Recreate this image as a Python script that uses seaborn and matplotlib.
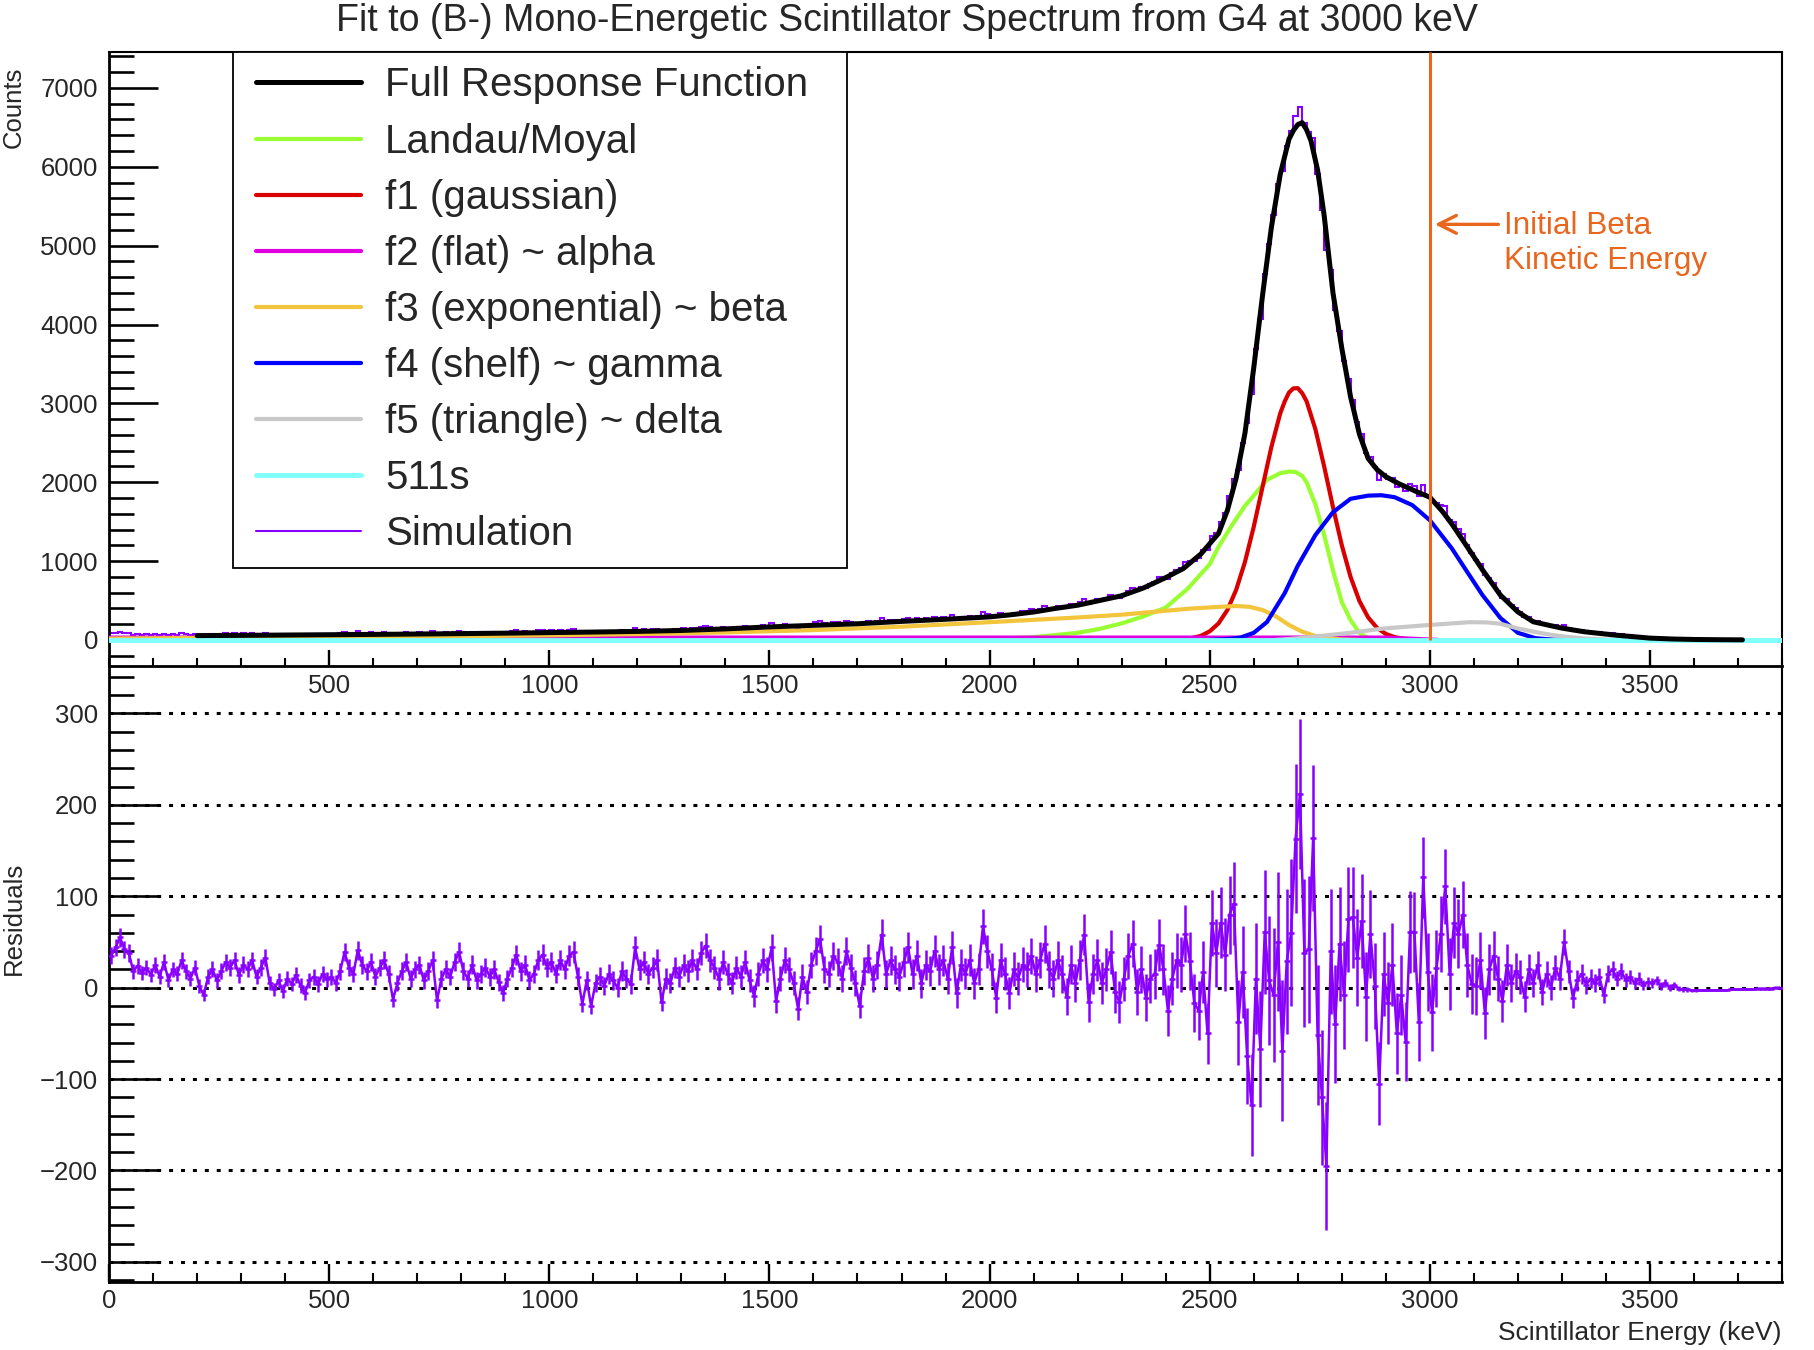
import numpy as np
import matplotlib
matplotlib.use("Agg")
import matplotlib.pyplot as plt
from matplotlib.ticker import MultipleLocator, FixedLocator
from matplotlib.lines import Line2D
from matplotlib.legend_handler import HandlerLine2D
import seaborn as sns

# simulated spectrum, 10 keV bins from 0 to 3800 keV
bin_edges = np.arange(0, 3810, 10)
bin_centers = bin_edges[:-1] + 5

sim_counts = [
    85, 94, 105, 92, 88, 68, 74, 66, 72, 64,
    77, 64, 80, 60, 72, 67, 82, 70, 62, 74,
    57, 47, 67, 76, 64, 74, 85, 79, 87, 71,
    83, 78, 89, 71, 81, 93, 65, 58, 69, 57,
    72, 66, 76, 65, 57, 72, 76, 69, 80, 74,
    78, 71, 84, 106, 89, 82, 109, 93, 86, 97,
    82, 92, 101, 86, 58, 78, 91, 101, 83, 94,
    100, 83, 94, 107, 63, 88, 98, 90, 106, 118,
    98, 90, 106, 89, 97, 105, 95, 104, 90, 79,
    96, 109, 123, 106, 114, 97, 105, 121, 127, 114,
    121, 109, 125, 116, 131, 135, 109, 80, 106, 79,
    105, 113, 104, 118, 111, 104, 123, 115, 110, 151,
    129, 138, 126, 134, 143, 98, 125, 121, 139, 131,
    146, 141, 155, 147, 167, 177, 163, 157, 147, 167,
    156, 148, 167, 159, 178, 160, 145, 171, 188, 180,
    210, 152, 179, 201, 193, 180, 154, 191, 176, 208,
    226, 241, 210, 207, 229, 224, 208, 240, 224, 209,
    186, 227, 244, 225, 243, 279, 239, 257, 250, 245,
    264, 282, 256, 278, 251, 274, 269, 294, 277, 290,
    273, 310, 262, 296, 289, 307, 285, 303, 353, 330,
    315, 289, 336, 327, 311, 343, 340, 362, 364, 386,
    374, 398, 425, 406, 405, 434, 427, 410, 453, 441,
    476, 516, 454, 497, 524, 511, 538, 569, 537, 538,
    580, 625, 658, 625, 670, 662, 709, 740, 798, 797,
    779, 843, 892, 916, 987, 1003, 1004, 1042, 1140, 1138,
    1324, 1356, 1494, 1604, 1823, 2040, 2155, 2495, 2753, 3115,
    3690, 4073, 4646, 5023, 5390, 5783, 5944, 6267, 6455, 6648,
    6757, 6553, 6442, 6371, 5908, 5453, 4940, 4685, 4185, 3923,
    3537, 3310, 3040, 2761, 2606, 2368, 2324, 2197, 2033, 2108,
    2038, 2050, 1945, 1960, 1884, 1979, 1954, 1830, 1966, 1839,
    1751, 1736, 1711, 1694, 1523, 1500, 1405, 1343, 1205, 1100,
    1013, 957, 818, 787, 723, 619, 528, 514, 441, 400,
    349, 291, 286, 235, 243, 200, 208, 180, 190, 166,
    195, 154, 116, 126, 124, 104, 105, 94, 95, 69,
    86, 85, 69, 72, 57, 57, 45, 45, 33, 31,
    27, 28, 20, 20, 13, 14, 9, 6, 5, 3,
    2, 1, 1, 0, 0, 0, 0, 0, 0, 0,
    0, 0, 0, 0, 0, 0, 0, 0, 0, 0,
]

residuals = [
    35, 44, 55, 42, 38, 18, 24, 16, 22, 14,
    25, 12, 28, 8, 20, 15, 30, 18, 10, 22,
    2, -8, 12, 20, 8, 18, 28, 22, 30, 14,
    25, 20, 30, 12, 22, 33, 5, -2, 8, -4,
    10, 4, 14, 2, -6, 8, 12, 4, 15, 9,
    12, 5, 18, 39, 22, 15, 41, 25, 18, 28,
    12, 22, 30, 15, -13, 5, 18, 28, 10, 20,
    25, 8, 18, 30, -14, 10, 20, 12, 28, 39,
    18, 10, 25, 8, 15, 22, 12, 20, 6, -6,
    10, 22, 36, 18, 25, 8, 15, 30, 36, 22,
    28, 15, 30, 20, 35, 39, 12, -18, 8, -20,
    5, 12, 2, 15, 8, 0, 18, 10, 4, 44,
    20, 28, 15, 22, 30, -16, 10, 5, 22, 12,
    25, 18, 30, 20, 38, 46, 30, 22, 10, 28,
    15, 5, 22, 12, 28, 8, -9, 15, 30, 20,
    44, -15, 10, 30, 20, 5, -23, 12, -5, 25,
    40, 53, 20, 15, 35, 28, 10, 40, 22, 5,
    -20, 18, 32, 10, 25, 58, 15, 30, 20, 12,
    28, 44, 15, 35, 5, 25, 18, 40, 20, 30,
    10, 44, -6, 25, 15, 30, 5, 20, 67, 40,
    20, -11, 30, 15, -6, 20, 10, 25, 20, 35,
    15, 30, 48, 20, 10, 30, 15, -10, 25, 5,
    30, 58, -16, 15, 30, 5, 20, 39, -5, -16,
    10, 35, 48, -5, 20, -11, 10, 15, 47, 20,
    -25, 10, 30, 25, 59, 29, -17, -25, 17, -50,
    71, 38, 71, 36, 80, 92, -38, 17, -75, -128,
    10, -67, 61, 8, -8, 50, -69, 29, 60, 163,
    212, 38, 42, 164, -52, -120, -195, 40, -40, 48,
    -8, 75, 77, 33, 73, -10, 59, 2, -105, 15,
    -17, 25, -50, -8, -59, 61, 61, -38, 121, 17,
    -27, 21, 59, 111, 15, 71, 59, 80, 25, 4,
    2, 30, -28, 20, 35, 10, -15, 25, 5, 18,
    12, -10, 20, 5, 25, -5, 15, 0, 22, 10,
    50, 18, -11, 8, 15, 3, 10, 5, 12, -8,
    15, 20, 10, 18, 8, 12, 5, 10, 3, 6,
    5, 8, 2, 5, 0, 3, -1, -2, -2, -3,
    -3, -3, -3, -3, -3, -3, -3, -3, -2, -2,
    -2, -2, -2, -2, -1, -1, -1, -1, 0, 0,
]

# fitted curves (keV, counts)
full_e = [200, 300, 400, 500, 600, 700, 800, 900, 1000, 1100, 1200, 1300, 1400, 1500,
          1600, 1700, 1800, 1900, 2000, 2050, 2100, 2150, 2200, 2250, 2300, 2350, 2400,
          2440, 2480, 2500, 2520, 2540, 2560, 2580, 2600, 2620, 2640, 2660, 2680, 2690,
          2700, 2710, 2720, 2730, 2745, 2760, 2780, 2800, 2820, 2840, 2860, 2880, 2900,
          2930, 2970, 3000, 3030, 3050, 3085, 3120, 3160, 3200, 3235, 3275, 3300, 3350,
          3425, 3500, 3550, 3600, 3650, 3710]
full_c = [55, 58, 62, 66, 70, 75, 80, 86, 93, 100, 108, 120, 140, 165,
          185, 205, 235, 262, 292, 320, 354, 400, 440, 500, 560, 660, 790,
          905, 1090, 1220, 1350, 1640, 2050, 2620, 3450, 4370, 5230, 5900, 6350, 6460,
          6535, 6560, 6470, 6330, 5960, 5380, 4400, 3700, 3080, 2610, 2300, 2160, 2070,
          1980, 1880, 1810, 1620, 1470, 1180, 885, 570, 355, 230, 180, 150, 104,
          59, 23, 12, 6, 3, 1]

moyal_e = [1900, 2000, 2100, 2200, 2250, 2300, 2350, 2400, 2450, 2500, 2520, 2550, 2580,
           2600, 2630, 2660, 2680, 2695, 2710, 2720, 2740, 2760, 2780, 2800, 2820, 2840,
           2860, 2880]
moyal_c = [0, 10, 35, 90, 140, 210, 300, 410, 650, 960, 1180, 1450, 1700,
           1830, 2030, 2115, 2135, 2130, 2080, 2000, 1720, 1330, 880, 480, 250, 90,
           20, 0]

gauss_e = [2400, 2420, 2440, 2460, 2480, 2500, 2520, 2540, 2560, 2580, 2600, 2620, 2640,
           2660, 2670, 2680, 2690, 2700, 2710, 2720, 2740, 2760, 2780, 2800, 2820, 2840,
           2860, 2880, 2900, 2920, 2940, 2960, 2980]
gauss_c = [1, 4, 10, 24, 52, 109, 210, 378, 634, 988, 1435, 1941, 2445,
           2870, 3020, 3137, 3190, 3193, 3130, 3027, 2673, 2199, 1684, 1201, 798, 494,
           284, 153, 76, 36, 15, 6, 2]

flat_e = [0, 2900, 2960, 3020]
flat_c = [30, 30, 15, 0]

expo_e = [0, 200, 400, 600, 800, 1000, 1200, 1400, 1600, 1800, 2000, 2200, 2300, 2400,
          2450, 2500, 2530, 2560, 2590, 2620, 2650, 2680, 2710, 2740, 2770, 2800, 2840]
expo_c = [18, 24, 30, 38, 47, 58, 74, 95, 125, 168, 225, 285, 320, 370,
          395, 412, 422, 430, 420, 380, 300, 190, 105, 50, 20, 6, 0]

shelf_e = [2500, 2540, 2570, 2600, 2630, 2670, 2700, 2740, 2780, 2820, 2860, 2890, 2920,
           2960, 3000, 3050, 3085, 3120, 3160, 3200, 3240, 3280, 3320]
shelf_c = [0, 10, 30, 90, 227, 590, 940, 1330, 1620, 1790, 1830, 1835, 1810,
           1710, 1518, 1160, 861, 565, 280, 90, 22, 3, 0]

tri_e = [2650, 2706, 2760, 2820, 2895, 3000, 3090, 3130, 3160, 3200, 3240, 3275, 3310,
         3350, 3400, 3450]
tri_c = [0, 23, 55, 91, 145, 190, 225, 222, 205, 145, 100, 65, 40,
         20, 5, 0]

annih_e = [0, 3800]
annih_c = [0, 0]

beta_energy = 3000

sns.set_theme(style="white")
plt.rcParams["font.family"] = ["Liberation Sans", "DejaVu Sans"]
plt.rcParams["axes.unicode_minus"] = True

purple = "#8800ff"
orange = "#e8661e"

fig = plt.figure(figsize=(18.14, 13.5), dpi=100)
# lower pad first so the upper pad's tick labels sit on top of it
ax2 = fig.add_axes([0.0601, 0.0504, 0.9223, 0.4563])
ax = fig.add_axes([0.0601, 0.5067, 0.9223, 0.4548])
ax2.patch.set_visible(False)

# ---- upper pad: spectrum and fit components
ax.stairs(sim_counts, bin_edges, color=purple, lw=1.5, zorder=2)
sns.lineplot(x=moyal_e, y=moyal_c, ax=ax, color="#99ff33", lw=3, label="Landau/Moyal", zorder=3)
sns.lineplot(x=gauss_e, y=gauss_c, ax=ax, color="#d80000", lw=3, label="f1 (gaussian)", zorder=3)
sns.lineplot(x=flat_e, y=flat_c, ax=ax, color="#e000e0", lw=3, label="f2 (flat) ~ alpha", zorder=3)
sns.lineplot(x=expo_e, y=expo_c, ax=ax, color="#f2c53d", lw=3, label="f3 (exponential) ~ beta", zorder=3)
sns.lineplot(x=shelf_e, y=shelf_c, ax=ax, color="#0000ff", lw=3, label="f4 (shelf) ~ gamma", zorder=3)
sns.lineplot(x=tri_e, y=tri_c, ax=ax, color="#c8c8c8", lw=3, label="f5 (triangle) ~ delta", zorder=3)
sns.lineplot(x=annih_e, y=annih_c, ax=ax, color="#80ffff", lw=3.5, label="511s", zorder=3)
sns.lineplot(x=full_e, y=full_c, ax=ax, color="black", lw=3.6, label="Full Response Function", zorder=4)

ax.set_xlim(0, 3800)
ax.set_ylim(-330, 7456)
ax.vlines(beta_energy, 0, 7456, color=orange, lw=2.2, zorder=5)
ax.annotate("", xy=(beta_energy + 5, 5270), xytext=(3162, 5270),
            arrowprops=dict(arrowstyle="->", color=orange, lw=2.4, mutation_scale=32))
ax.text(3168, 5250, "Initial Beta", color=orange, fontsize=22.7, ha="left", va="center")
ax.text(3168, 4800, "Kinetic Energy", color=orange, fontsize=22.7, ha="left", va="center")

order = ["Full Response Function", "Landau/Moyal", "f1 (gaussian)", "f2 (flat) ~ alpha",
         "f3 (exponential) ~ beta", "f4 (shelf) ~ gamma", "f5 (triangle) ~ delta",
         "511s", "Simulation"]
handles, labels = ax.get_legend_handles_labels()
lookup = dict(zip(labels, handles))
lookup["Simulation"] = Line2D([], [], color=purple, lw=1.5)
leg = ax.legend([lookup[k] for k in order], order, loc="upper left",
                bbox_to_anchor=(0.0741, 0.0, 0.367, 1.0), mode="expand",
                fontsize=29, frameon=True, fancybox=False, framealpha=1,
                edgecolor="black", borderpad=0.36, handlelength=2.82,
                handletextpad=0.6, labelspacing=0.45, borderaxespad=0,
                handler_map={Line2D: HandlerLine2D(xpad=0.21)})
leg.get_frame().set_linewidth(1.3)

ax.xaxis.set_major_locator(FixedLocator([500, 1000, 1500, 2000, 2500, 3000, 3500]))
ax.xaxis.set_minor_locator(MultipleLocator(100))
ax.yaxis.set_major_locator(MultipleLocator(1000))
ax.yaxis.set_minor_locator(MultipleLocator(200))
ax.tick_params(axis="both", which="both", direction="in", top=False, right=False,
               left=True, bottom=True, labelsize=18.5, color="black")
ax.tick_params(axis="y", which="major", length=35, width=1.9, pad=8)
ax.tick_params(axis="y", which="minor", length=18, width=1.9)
ax.tick_params(axis="x", which="major", length=11.5, width=1.7, pad=6)
ax.tick_params(axis="x", which="minor", length=5.8, width=1.5)
ax.set_xlabel("")
ax.set_ylabel("")
for side in ["left", "bottom"]:
    ax.spines[side].set_linewidth(2.0)
for side in ["top", "right"]:
    ax.spines[side].set_linewidth(1.5)
for s in ax.spines.values():
    s.set_color("black")
    s.set_visible(True)

# ---- lower pad: residuals
ax2.errorbar(bin_centers, residuals, yerr=np.sqrt(sim_counts), color=purple, lw=1.8,
             elinewidth=1.8, marker="_", ms=5, mew=1.8, capsize=0, zorder=3)
ax2.set_xlim(0, 3800)
ax2.set_ylim(-322, 352)
ax2.xaxis.set_major_locator(MultipleLocator(500))
ax2.xaxis.set_minor_locator(MultipleLocator(100))
ax2.yaxis.set_major_locator(FixedLocator([-300, -200, -100, 0, 100, 200, 300]))
ax2.yaxis.set_minor_locator(MultipleLocator(20))
ax2.yaxis.grid(True, which="major", color="black", lw=2.2, ls=(0, (1.3, 2.6)))
ax2.xaxis.grid(False)
ax2.set_axisbelow(True)
ax2.tick_params(axis="both", which="both", direction="in", top=False, right=False,
                left=True, bottom=True, labelsize=18.5, color="black")
ax2.tick_params(axis="y", which="major", length=35, width=1.9, pad=8)
ax2.tick_params(axis="y", which="minor", length=18, width=1.9)
ax2.tick_params(axis="x", which="major", length=13, width=1.7, pad=5)
ax2.tick_params(axis="x", which="minor", length=6.5, width=1.5)
ax2.spines["top"].set_visible(False)
for side in ["left", "bottom"]:
    ax2.spines[side].set_linewidth(2.0)
ax2.spines["right"].set_linewidth(1.5)
for s in ax2.spines.values():
    s.set_color("black")

# ---- titles
fig.text(0.5, 1 - 21 / 1350, "Fit to (B-) Mono-Energetic Scintillator Spectrum from G4 at 3000 keV",
         ha="center", va="center", fontsize=27)
fig.text(14 / 1814, 1 - 67 / 1350, "Counts", rotation=90, ha="center", va="top", fontsize=18.5)
fig.text(14 / 1814, 1 - 975 / 1350, "Residuals", rotation=90, ha="center", va="bottom", fontsize=18.5)
fig.text(1782 / 1814, 1 - 1333 / 1350, "Scintillator Energy (keV)", ha="right", va="center",
         fontsize=19)

fig.savefig("out.png", dpi=100)
